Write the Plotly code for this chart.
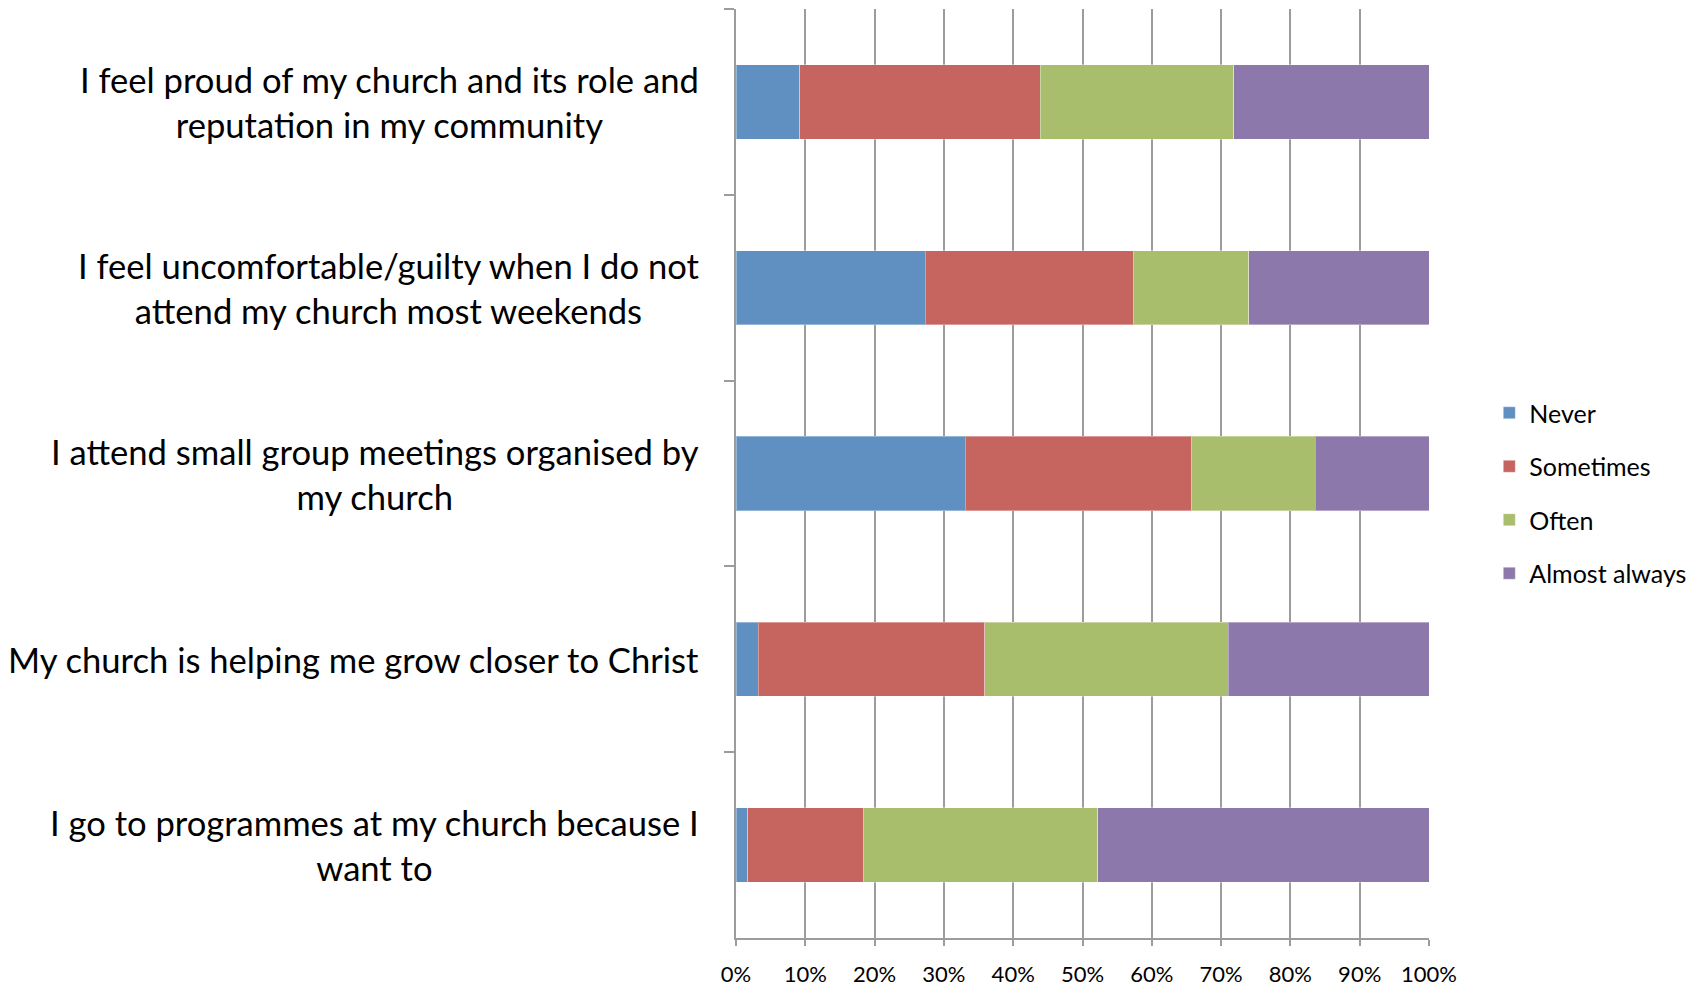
import plotly.graph_objects as go

categories = [
    "I feel proud of my church and its role and<br>reputation in my community",
    "I feel uncomfortable/guilty when I do not<br>attend my church most weekends",
    "I attend small group meetings organised by<br>my church",
    "My church is helping me grow closer to Christ",
    "I go to programmes at my church because I<br>want to",
]
never = [9.2, 27.3, 33.1, 3.2, 1.7]
sometimes = [34.7, 30.1, 32.7, 32.7, 16.7]
often = [27.9, 16.6, 17.8, 35.1, 33.8]
almost_always = [28.2, 26.0, 16.4, 29.0, 47.8]

series_names = ["Never", "Sometimes", "Often", "Almost always"]
series_values = [never, sometimes, often, almost_always]
series_colors = ["#5F90C1", "#C6645F", "#A9BE6D", "#8D78AB"]

FONT = "Lato"

fig = go.Figure()
for name, vals, col in zip(series_names, series_values, series_colors):
    fig.add_trace(go.Bar(
        y=categories, x=vals, name=name, orientation="h",
        marker=dict(color=col, line=dict(color="rgba(255,255,255,0.35)", width=1)),
        legendgroup=name, hoverinfo="x+name",
    ))

for i, lab in enumerate(categories):
    fig.add_annotation(
        x=-0.05, xref="paper", y=i, yref="y", text=lab, showarrow=False,
        xanchor="right", yanchor="middle", align="center",
        font=dict(family=FONT, size=34.6, color="#000000"),
    )

fig.update_layout(
    width=1694, height=985,
    margin=dict(l=728, r=273, t=1, b=55, autoexpand=False),
    paper_bgcolor="white", plot_bgcolor="white",
    barmode="stack", bargap=0.6,
    showlegend=True,
    legend=dict(
        x=1.087, xanchor="left", y=0.479, yanchor="middle",
        traceorder="grouped", tracegroupgap=18,
        font=dict(family=FONT, size=25, color="#000000"),
        bgcolor="rgba(0,0,0,0)",
    ),
    xaxis=dict(
        range=[0, 100], dtick=10, tick0=0, ticksuffix="%",
        showgrid=True, gridcolor="#9C9C9C", gridwidth=1.5,
        showline=True, linecolor="#9C9C9C", linewidth=1.5,
        ticks="outside", ticklen=6, tickcolor="#9C9C9C", tickwidth=1.5,
        zeroline=False, ticklabelstandoff=10, automargin=False,
        tickfont=dict(family=FONT, size=22, color="#000000"),
    ),
    yaxis=dict(
        type="category", categoryorder="array", categoryarray=categories,
        autorange="reversed", automargin=False,
        showgrid=False, zeroline=False,
        showline=True, linecolor="#9C9C9C", linewidth=1.5,
        ticks="outside", tickson="boundaries", ticklen=10,
        tickcolor="#9C9C9C", tickwidth=1.5,
        showticklabels=False,
    ),
)

fig.write_html("out.html")
